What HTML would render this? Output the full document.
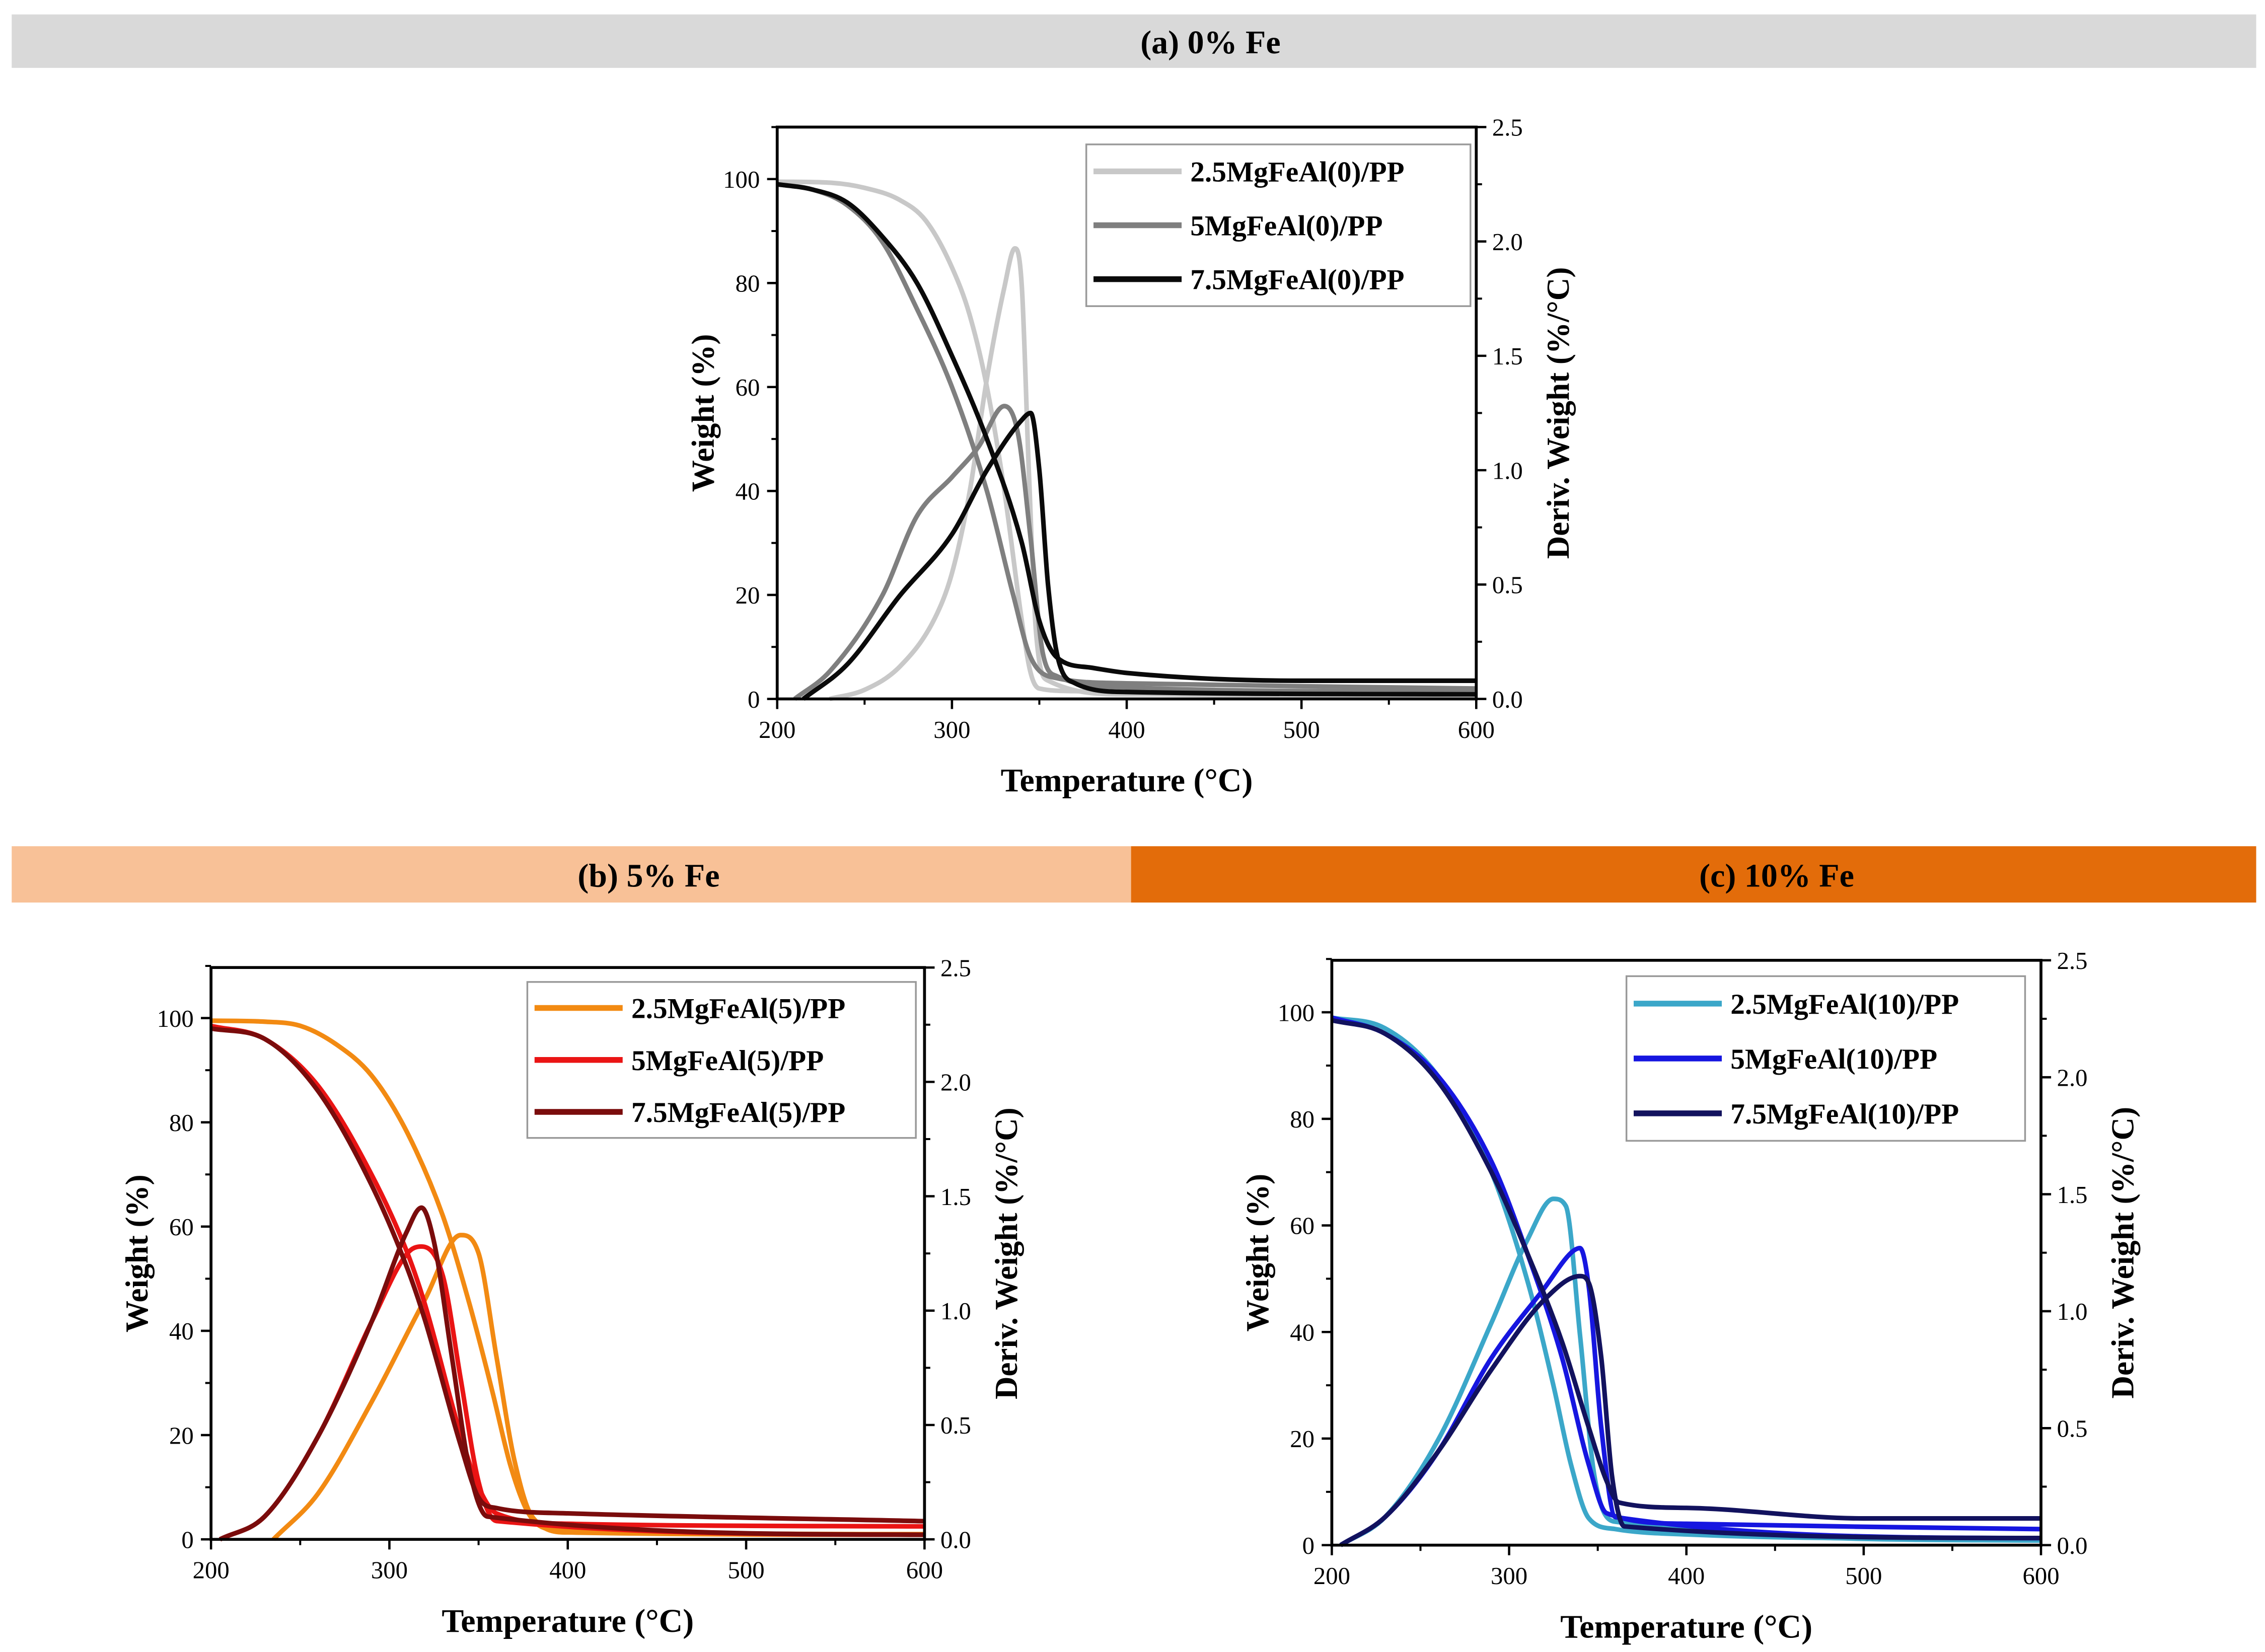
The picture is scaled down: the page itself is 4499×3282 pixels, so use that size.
<!DOCTYPE html>
<html><head><meta charset="utf-8"><style>
html,body{margin:0;padding:0;background:#fff;}
svg{display:block;font-family:"Liberation Serif",serif;}
</style></head><body>
<svg id="fig" width="4499" height="3282" viewBox="0 0 1568 1144" xmlns="http://www.w3.org/2000/svg">
<rect x="0" y="0" width="1568" height="1144" fill="#fff"/>
<rect x="8" y="10" width="1554" height="37" fill="#d9d9d9"/>
<text x="838" y="37" text-anchor="middle" font-size="23" font-weight="bold">(a)  0% Fe</text>
<rect x="8" y="586" width="775" height="39" fill="#f8c197"/>
<text x="449" y="614" text-anchor="middle" font-size="23" font-weight="bold">(b)  5% Fe</text>
<rect x="783" y="586" width="779" height="39" fill="#e36c0a"/>
<text x="1230" y="614" text-anchor="middle" font-size="23" font-weight="bold">(c)   10% Fe</text>
</svg>
<script>
// ---- data (temperature °C, weight %, deriv %/°C) ----
const xTicks=[200,300,400,500,600];
const yLeftTicks=[0,20,40,60,80,100];
const yRightTicks=[0,0.5,1.0,1.5,2.0,2.5];
const yRightLabels=["0.0","0.5","1.0","1.5","2.0","2.5"];
// Panel a
const a1WT=[200,230,250,270,285,300,310,320,330,340,345,350,370,400,600];
const a1W=[99.5,99.3,98.3,96,92,83,74,60,40,15,5,2,1.5,1,0.5];
const a1DT=[230,250,270,290,300,310,320,330,336,340,344,348,355,400,600];
const a1D=[0,0.04,0.14,0.35,0.55,0.9,1.4,1.8,1.97,1.8,1.0,0.3,0.08,0.02,0.02];
const a2WT=[200,220,240,260,280,300,320,335,345,360,400,600];
const a2W=[99,98,95,88,75,60,40,20,8,4,3,2];
const a2DT=[210,230,260,280,300,315,330,338,345,352,360,400,600];
const a2D=[0,0.12,0.45,0.8,0.97,1.1,1.28,1.15,0.7,0.2,0.1,0.05,0.03];
const a3WT=[200,220,240,260,280,300,320,340,350,360,380,400,500,600];
const a3W=[99,98,95.5,89,80,66,50,30,15,8,6,5,3.5,3.5];
const a3DT=[215,240,270,300,320,340,345,350,355,360,370,400,600];
const a3D=[0,0.15,0.45,0.72,1.0,1.22,1.25,1.0,0.5,0.2,0.07,0.03,0.02];
// Panel b
const b1WT=[200,230,250,270,290,310,330,345,358,368,378,390,600];
const b1W=[99.5,99.3,98.5,95,89,78,62,45,28,14,5,2,1];
const b1DT=[235,260,290,320,340,350,360,370,380,400,600];
const b1D=[0,0.2,0.6,1.05,1.33,1.25,0.8,0.35,0.1,0.03,0.02];
const b2WT=[200,230,260,290,310,320,340,350,360,400,600];
const b2W=[98.5,96,87,70,55,45,20,10,5,3,2.5];
const b2DT=[205,230,260,290,310,318,330,340,350,360,600];
const b2D=[0,0.1,0.45,0.95,1.25,1.28,1.15,0.7,0.25,0.08,0.02];
const b3WT=[200,230,260,290,310,320,340,350,360,400,600];
const b3W=[98,96,86,68,52,42,18,8,6,5,3.5];
const b3DT=[205,230,260,290,310,318,325,335,345,355,600];
const b3D=[0,0.1,0.45,0.95,1.35,1.45,1.3,0.8,0.3,0.1,0.02];
// Panel c
const c1WT=[200,230,260,290,310,325,335,345,360,400,600];
const c1W=[99,97,88,70,50,30,15,5,3,2,1];
const c1DT=[205,230,260,290,310,325,332,340,348,360,600];
const c1D=[0,0.12,0.45,0.95,1.3,1.48,1.45,0.9,0.3,0.1,0.02];
const c2WT=[200,230,260,290,310,330,345,355,400,600];
const c2W=[99,96,88,72,55,35,15,6,4,3];
const c2DT=[205,230,260,290,320,335,340,345,352,360,600];
const c2D=[0,0.12,0.4,0.8,1.1,1.25,1.27,1.1,0.5,0.12,0.03];
const c3WT=[200,230,260,290,310,330,345,355,362,400,500,600];
const c3W=[98.5,96,87,70,55,38,22,12,8,7,5,5];
const c3DT=[205,230,260,290,320,340,345,352,358,365,600];
const c3D=[0,0.12,0.4,0.75,1.05,1.15,1.12,0.8,0.3,0.08,0.03];

const NS="http://www.w3.org/2000/svg";
const svg=document.getElementById('fig');
function mk(tag,attrs,parent){const e=document.createElementNS(NS,tag);for(const k in attrs)e.setAttribute(k,attrs[k]);(parent||svg).appendChild(e);return e;}

// monotone cubic path (Fritsch-Carlson)
function monoPath(xs,ys){
  const n=xs.length;const d=[],m=[];
  for(let i=0;i<n-1;i++)d.push((ys[i+1]-ys[i])/(xs[i+1]-xs[i]));
  m[0]=d[0];m[n-1]=d[n-2];
  for(let i=1;i<n-1;i++){m[i]=(d[i-1]*d[i]<=0)?0:(d[i-1]+d[i])/2;}
  for(let i=0;i<n-1;i++){
    if(d[i]===0){m[i]=0;m[i+1]=0;continue;}
    const a=m[i]/d[i],b=m[i+1]/d[i],s=a*a+b*b;
    if(s>9){const t=3/Math.sqrt(s);m[i]=t*a*d[i];m[i+1]=t*b*d[i];}
  }
  let p='M'+xs[0].toFixed(1)+','+ys[0].toFixed(1);
  for(let i=0;i<n-1;i++){const h=(xs[i+1]-xs[i])/3;
    p+=' C'+(xs[i]+h).toFixed(1)+','+(ys[i]+m[i]*h).toFixed(1)+' '+(xs[i+1]-h).toFixed(1)+','+(ys[i+1]-m[i+1]*h).toFixed(1)+' '+xs[i+1].toFixed(1)+','+ys[i+1].toFixed(1);}
  return p;
}

function panel(P){
  const g=mk('g',{});
  
  
  const X=v=>P.x0+(v-200)/400*(P.x1-P.x0);
  const YL=v=>P.y0-(v/100)*(P.y0-P.y100);
  const YR=v=>P.y0-(v/2.5)*(P.y0-P.y1);
  P.series.forEach(s=>{
    const l1=mk('path',{d:monoPath(s.wt.map(X),s.w.map(YL)),fill:'none',stroke:s.c,'stroke-width':3.2,'stroke-linejoin':'round'},g);
    
    
    const l2=mk('path',{d:monoPath(s.dt.map(X),s.d.map(YR)),fill:'none',stroke:s.c,'stroke-width':3.2,'stroke-linejoin':'round'},g);
    
    
  });
  const fr=mk('rect',{x:P.x0,y:P.y1,width:P.x1-P.x0,height:P.y0-P.y1,fill:'none',stroke:'#000','stroke-width':2},g);
  
  
  xTicks.forEach(t=>{
    mk('line',{x1:X(t),x2:X(t),y1:P.y0,y2:P.y0+7,stroke:'#000','stroke-width':1.6},g);
    const tx=mk('text',{x:X(t),y:P.y0+27,'text-anchor':'middle','font-size':17},g);
    tx.textContent=t;
    
    
  });
  for(let t=250;t<600;t+=100)mk('line',{x1:X(t),x2:X(t),y1:P.y0,y2:P.y0+4,stroke:'#000','stroke-width':1.4},g);
  yLeftTicks.forEach(t=>{
    mk('line',{x1:P.x0-7,x2:P.x0,y1:YL(t),y2:YL(t),stroke:'#000','stroke-width':1.6},g);
    const tx=mk('text',{x:P.x0-12,y:YL(t)+6,'text-anchor':'end','font-size':17},g);
    tx.textContent=t;
    
    
  });
  for(let t=10;t<=110;t+=20)mk('line',{x1:P.x0-4,x2:P.x0,y1:YL(t),y2:YL(t),stroke:'#000','stroke-width':1.4},g);
  yRightTicks.forEach((t,i)=>{
    mk('line',{x1:P.x1,x2:P.x1+7,y1:YR(t),y2:YR(t),stroke:'#000','stroke-width':1.6},g);
    const tx=mk('text',{x:P.x1+11,y:YR(t)+6,'font-size':17},g);
    tx.textContent=yRightLabels[i];
    
    
  });
  for(let t=0.25;t<2.5;t+=0.5)mk('line',{x1:P.x1,x2:P.x1+4,y1:YR(t),y2:YR(t),stroke:'#000','stroke-width':1.4},g);
  const xt=mk('text',{x:(P.x0+P.x1)/2,y:P.y0+64,'text-anchor':'middle','font-size':23,'font-weight':'bold'},g);
  xt.textContent='Temperature (°C)';
  
  
  const cy=(P.y0+P.y1)/2;
  const yl=mk('text',{x:P.x0-44,y:cy,'text-anchor':'middle','font-size':22,'font-weight':'bold',transform:`rotate(-90 ${P.x0-44} ${cy})`},g);
  yl.textContent='Weight (%)';
  
  
  const rx=P.x1+64;
  const yr=mk('text',{x:rx,y:cy,'text-anchor':'middle','font-size':22,'font-weight':'bold',transform:`rotate(-90 ${rx} ${cy})`},g);
  yr.textContent='Deriv. Weight (%/°C)';
  
  
  const L=P.leg;
  const lb=mk('rect',{x:L.x,y:L.y,width:L.w,height:L.h,fill:'#fff',stroke:'#999','stroke-width':1.2},g);
  
  
  const step=L.h/3;
  P.series.forEach((s,i)=>{
    const yy=L.y+step*(i+0.5);
    const ls=mk('line',{x1:L.x+5,x2:L.x+66,y1:yy,y2:yy,stroke:s.c,'stroke-width':4},g);
    
    
    const lt=mk('text',{x:L.x+72,y:yy+7,'font-size':20,'font-weight':'bold'},g);
    lt.textContent=s.label;
    
    
  });
}
panel({id:'panel-a',x0:538,x1:1022,y0:484,y100:124,y1:88,leg:{x:752,y:100,w:266,h:112},
  series:[{key:'a-2.5',label:'2.5MgFeAl(0)/PP',c:'#c8c8c8',wt:a1WT,w:a1W,dt:a1DT,d:a1D},
          {key:'a-5',label:'5MgFeAl(0)/PP',c:'#7f7f7f',wt:a2WT,w:a2W,dt:a2DT,d:a2D},
          {key:'a-7.5',label:'7.5MgFeAl(0)/PP',c:'#0a0a0a',wt:a3WT,w:a3W,dt:a3DT,d:a3D}]});
panel({id:'panel-b',x0:146,x1:640,y0:1066,y100:705,y1:670,leg:{x:365,y:680,w:269,h:108},
  series:[{key:'b-2.5',label:'2.5MgFeAl(5)/PP',c:'#f28a12',wt:b1WT,w:b1W,dt:b1DT,d:b1D},
          {key:'b-5',label:'5MgFeAl(5)/PP',c:'#ea1414',wt:b2WT,w:b2W,dt:b2DT,d:b2D},
          {key:'b-7.5',label:'7.5MgFeAl(5)/PP',c:'#7a0c0c',wt:b3WT,w:b3W,dt:b3DT,d:b3D}]});
panel({id:'panel-c',x0:922,x1:1413,y0:1070,y100:701,y1:665,leg:{x:1126,y:676,w:276,h:114},
  series:[{key:'c-2.5',label:'2.5MgFeAl(10)/PP',c:'#3ba7c9',wt:c1WT,w:c1W,dt:c1DT,d:c1D},
          {key:'c-5',label:'5MgFeAl(10)/PP',c:'#1616e0',wt:c2WT,w:c2W,dt:c2DT,d:c2D},
          {key:'c-7.5',label:'7.5MgFeAl(10)/PP',c:'#12125e',wt:c3WT,w:c3W,dt:c3DT,d:c3D}]});
</script>
</body></html>
